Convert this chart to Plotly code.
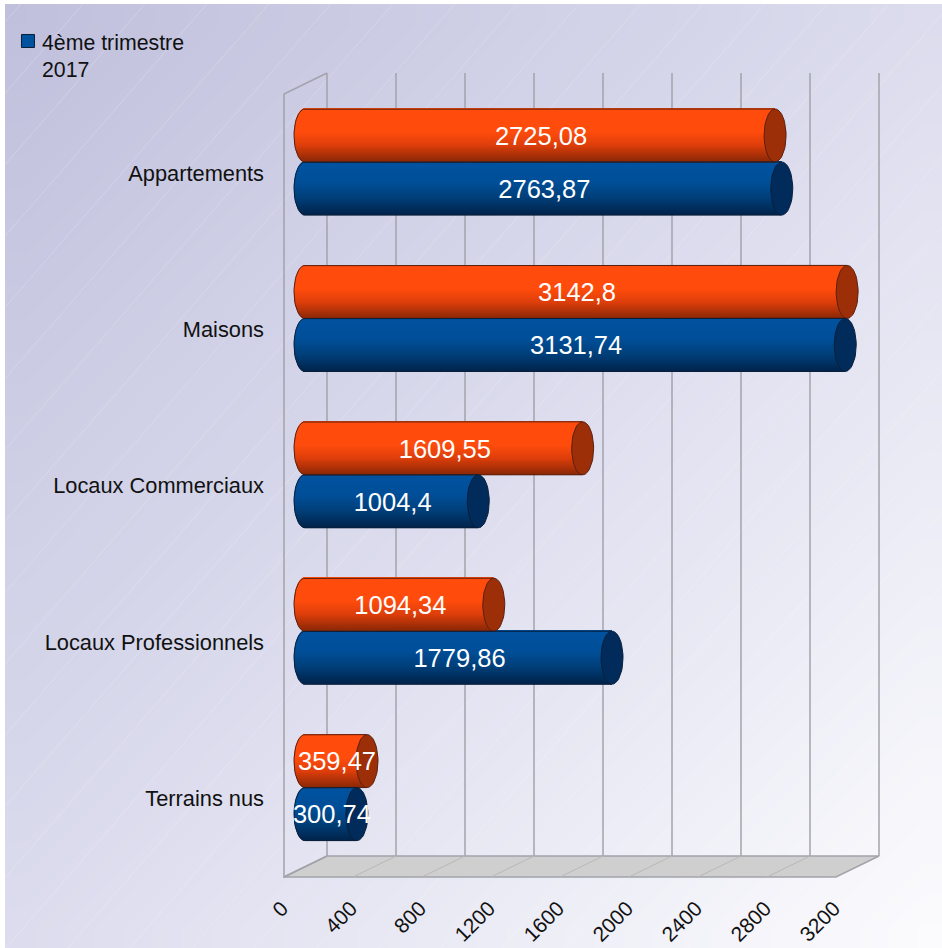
import math
import plotly.graph_objects as go

categories = ["Appartements", "Maisons", "Locaux Commerciaux", "Locaux Professionnels", "Terrains nus"]
orange_values = [2725.08, 3142.8, 1609.55, 1094.34, 359.47]
blue_values = [2763.87, 3131.74, 1004.4, 1779.86, 300.74]
orange_labels = ["2725,08", "3142,8", "1609,55", "1094,34", "359,47"]
blue_labels = ["2763,87", "3131,74", "1004,4", "1779,86", "300,74"]
axis_ticks = [0, 400, 800, 1200, 1600, 2000, 2400, 2800, 3200]
legend_name = "4ème trimestre<br>2017"

W, H = 942, 948
SCALE = 0.1725      # px per value unit
X0 = 305            # px of value 0 for cylinders
BACK0, FRONT0 = 327, 284  # px of value 0 on back wall and front edge
Y0, DY = 162, 156.4 # px of first category, spacing
LABEL_Y0 = 173      # px of first category label
RX = 11 / SCALE
HALF = 26.5 / DY
RY = HALF
FONT = "Liberation Sans"
N = 53

def lerp(a, b, t):
    return tuple(a[i] + (b[i] - a[i]) * t for i in range(3))

def rgb(c):
    return "rgb(%d,%d,%d)" % tuple(round(v) for v in c)

def ramp(stops, t):
    for (t0, c0), (t1, c1) in zip(stops, stops[1:]):
        if t <= t1:
            return lerp(c0, c1, (t - t0) / (t1 - t0))
    return stops[-1][1]

ORANGE = [(0, (255, 76, 12)), (0.45, (255, 76, 12)), (0.7, (222, 62, 10)), (1, (140, 40, 6))]
BLUE = [(0, (0, 82, 160)), (0.4, (0, 78, 152)), (0.7, (0, 62, 120)), (1, (0, 36, 76))]
CAP_O, CAP_B = "#9c2e08", "#002b5a"
EDGE_O, EDGE_B = "#5a2010", "#0a1f3a"
GRID = "#a3a3ab"

fig = go.Figure()

# background gradient (style only); x/y are brick edges so it stops at the white frame
gn = 24
gx = [5 + i * (W - 5) / gn for i in range(gn + 1)]
gy = [i * (H - 4) / gn for i in range(gn + 1)]
gz = [[(x / W + (H - y) / H) / 2 for x in gx[:-1]] for y in gy[:-1]]
fig.add_trace(go.Heatmap(x=gx, y=gy, z=gz, showscale=False, hoverinfo="skip", zmin=0, zmax=1, zsmooth="best",
                         colorscale=[[0, "#bfbfdc"], [0.5, "#dcdcee"], [1, "#fcfcfe"]],
                         xaxis="x", yaxis="y"))
# faint gradient steps
for s in range(-800, 1000, 62):
    fig.add_trace(go.Scatter(x=[max(s, 5), s + (H - 4) / 1.15], y=[max(0, (5 - s) * 1.15), H - 4], mode="lines",
                             hoverinfo="skip", showlegend=False,
                             line=dict(color="rgba(255,255,255,0.2)", width=1), xaxis="x", yaxis="y"))

# back wall grid lines, one per axis tick
wall_x, wall_y = [], []
for v in axis_ticks:
    wall_x += [v, v, None]
    wall_y += [73, 856, None]
fig.add_trace(go.Scatter(x=wall_x, y=wall_y, mode="lines", line=dict(color=GRID, width=1.5),
                         hoverinfo="skip", showlegend=False, xaxis="x2", yaxis="y2"))

rows = []
for i in range(len(categories)):
    rows.append((i - HALF, orange_values[i], ORANGE, CAP_O, EDGE_O, orange_labels[i]))
    rows.append((i + HALF, blue_values[i], BLUE, CAP_B, EDGE_B, blue_labels[i]))

# cylinder bodies as stacked gradient bands
for k in range(N):
    t = (k + 0.5) / N
    off = (2 * t - 1) * HALF
    bulge = RX * math.sqrt(max(0, 1 - (2 * t - 1) ** 2))
    fig.add_trace(go.Bar(
        orientation="h",
        y=[r[0] + off for r in rows],
        x=[r[1] + bulge for r in rows],
        base=[-bulge] * len(rows),
        width=2 * HALF / N * 1.5,
        marker=dict(color=[rgb(ramp(r[2], t)) for r in rows], line=dict(width=0)),
        hoverinfo="skip", showlegend=False, xaxis="x3", yaxis="y3"))

# outlines and end caps
AS = [j * 2 * math.pi / 48 for j in range(49)]
for yc, v, _, cap, edge, _lab in rows:
    left = [j * math.pi / 24 + math.pi / 2 for j in range(25)]
    fig.add_trace(go.Scatter(
        x=[v] + [RX * math.cos(a) for a in left] + [v],
        y=[yc - RY] + [yc - RY * math.sin(a) for a in left] + [yc + RY],
        mode="lines", line=dict(color=edge, width=1), hoverinfo="skip", showlegend=False,
        xaxis="x3", yaxis="y3"))
    fig.add_trace(go.Scatter(
        x=[v + RX * math.cos(a) for a in AS],
        y=[yc + RY * math.sin(a) for a in AS],
        mode="lines", fill="toself", fillcolor=cap, line=dict(color=edge, width=1),
        hoverinfo="skip", showlegend=False, xaxis="x3", yaxis="y3"))

# value labels
TEXT_DX, TEXT_DY = 1 / SCALE, 3 / DY
fig.add_trace(go.Scatter(
    x=[r[1] / 2 + TEXT_DX for r in rows], y=[r[0] + TEXT_DY for r in rows], text=[r[5] for r in rows],
    mode="text", textposition="middle center", textfont=dict(family=FONT, size=25.5, color="white"),
    hoverinfo="skip", showlegend=False, xaxis="x3", yaxis="y3"))

# legend text entry
fig.add_trace(go.Scatter(
    x=[None], y=[None], mode="markers", name=legend_name,
    marker=dict(symbol="square", size=1, color="rgba(0,0,0,0)"),
    xaxis="x3", yaxis="y3"))

# category labels sit slightly below the cylinder pair
fig.add_trace(go.Scatter(x=[0, 0], y=[0, 4], mode="lines", line=dict(color="rgba(0,0,0,0)"),
                         hoverinfo="skip", showlegend=False, xaxis="x3", yaxis="y4"))
# front tick labels axis
fig.add_trace(go.Scatter(x=[0, 3200], y=[H, H], mode="lines", line=dict(color="rgba(0,0,0,0)"),
                         hoverinfo="skip", showlegend=False, xaxis="x4", yaxis="y2"))

# floor and left wall
shapes = []
def px(x): return x / W
def py(y): return 1 - y / H
def poly(pts, fill=None, width=1.5, color=GRID, close=True):
    path = "M " + " L ".join(f"{px(a):.5f} {py(b):.5f}" for a, b in pts) + (" Z" if close else "")
    return dict(type="path", path=path, xref="paper", yref="paper", layer="above",
                fillcolor=fill or "rgba(0,0,0,0)", line=dict(color=color, width=width))
shapes.append(poly([(284, 877), (327, 856), (879, 856), (836, 877)], fill="#cfcfcf"))
shapes.append(poly([(327, 856), (284, 877), (284, 94), (327, 73)], close=False))
for v in axis_ticks[1:-1]:
    xb = BACK0 + v * SCALE
    xf = FRONT0 + v * SCALE
    shapes.append(dict(type="line", xref="paper", yref="paper", layer="above",
                       x0=px(xf), y0=py(877), x1=px(xb), y1=py(856), line=dict(color="#b8b8b8", width=1)))
# legend swatch
shapes.append(poly([(21.5, 34.5), (34.5, 34.5), (34.5, 47.5), (21.5, 47.5)], fill="#00529f", width=1, color="#0a1f3a"))

hidden = dict(visible=False, showgrid=False, zeroline=False, fixedrange=True, automargin=False)
TICK_FONT = dict(family=FONT, size=21.8, color="#111111")
fig.update_layout(
    width=W, height=H, margin=dict(l=0, r=0, t=0, b=0, autoexpand=False), autosize=False,
    paper_bgcolor="white", plot_bgcolor="rgba(0,0,0,0)",
    barmode="overlay", shapes=shapes, hovermode=False,
    font=dict(family=FONT, size=21.5, color="#111111"),
    legend=dict(x=190 / W, y=1 - 21 / H, xanchor="right", yanchor="top", bgcolor="rgba(0,0,0,0)",
                font=dict(size=21.3, family=FONT, color="#111111"), itemwidth=30,
                entrywidth=150, entrywidthmode="pixels"),
    xaxis=dict(domain=[0, 1], range=[0, W], **hidden),
    yaxis=dict(domain=[0, 1], range=[0, H], **hidden),
    xaxis2=dict(range=[-BACK0 / SCALE, (W - BACK0) / SCALE], overlaying="x", anchor="y2", **hidden),
    yaxis2=dict(range=[H, 0], overlaying="y", anchor="x2", **hidden),
    xaxis3=dict(range=[-X0 / SCALE, (W - X0) / SCALE], overlaying="x", anchor="y3", **hidden),
    yaxis3=dict(range=[(H - Y0) / DY, -Y0 / DY], overlaying="y", anchor="x3", **hidden),
    yaxis4=dict(range=[(H - LABEL_Y0) / DY, -LABEL_Y0 / DY], overlaying="y", anchor="free",
                position=264 / W, tickvals=list(range(len(categories))), ticktext=categories,
                side="left", ticks="", showgrid=False, zeroline=False, showline=False, fixedrange=True,
                automargin=False, tickfont=TICK_FONT),
    xaxis4=dict(range=[-(FRONT0 - 2) / SCALE, (W - FRONT0 + 2) / SCALE], overlaying="x", anchor="free",
                position=1 - 891 / H, side="bottom", tickvals=axis_ticks, tickangle=-45, ticks="",
                showgrid=False, zeroline=False, showline=False, fixedrange=True,
                automargin=False, tickfont=dict(family=FONT, size=21, color="#111111")),
)
fig.write_html("out.html", config={"displayModeBar": False},
               post_script="document.body.style.margin='0';document.body.style.overflow='hidden';")
